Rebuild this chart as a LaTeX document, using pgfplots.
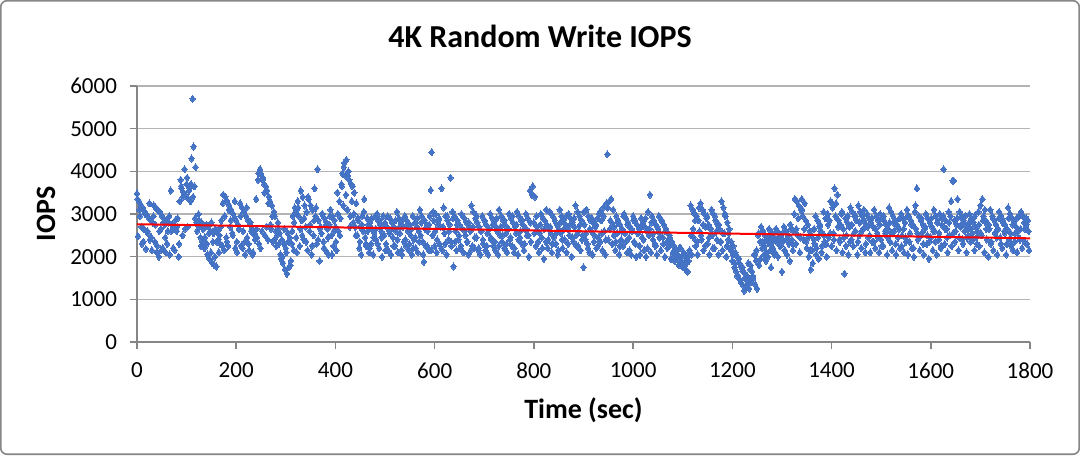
\documentclass[border=0pt]{standalone}
\usepackage{pgfplots}
\pgfplotsset{compat=1.18}
\usepackage{fontspec}
\setmainfont{Carlito}
\definecolor{ptblue}{RGB}{68,114,196}
\definecolor{gridgray}{RGB}{180,180,180}
\definecolor{axgray}{RGB}{134,134,134}
\definecolor{bordergray}{RGB}{134,134,134}
\begin{document}
\begin{tikzpicture}
\begin{axis}[
  set layers,
  scale only axis,
  width=446.5pt, height=128pt,
  xmin=0, xmax=1800, ymin=0, ymax=6000,
  xtick={0,200,...,1800}, ytick={0,1000,...,6000},
  axis x line*=bottom, axis y line*=left,
  axis line style={axgray, line width=0.8pt},
  ymajorgrids, grid style={gridgray, line width=0.8pt},
  tick align=outside, major tick length=3.5pt,
  tick style={axgray, line width=0.8pt},
  /pgf/number format/assume math mode=true,
  /pgf/number format/1000 sep={},
  ticklabel style={font=\fontsize{11.5}{13}\selectfont},
  yticklabel style={xshift=-3pt},
  xticklabel style={yshift=-3.5pt},
  title={4K Random Write IOPS},
  title style={font=\fontsize{16}{19}\selectfont\bfseries, at={(axis description cs:0.4513,1.148)}, anchor=center},
  xlabel={Time (sec)},
  xlabel style={font=\fontsize{14}{16}\selectfont\bfseries, at={(axis description cs:0.5,-0.2656)}, anchor=center},
  ylabel={IOPS},
  ylabel style={font=\fontsize{14}{16}\selectfont\bfseries, at={(axis description cs:-0.1019,0.5)}, anchor=center, rotate=0},
  clip=false,
]
\addplot[only marks, mark=diamond*, mark size=1.8pt, color=ptblue, mark options={draw=ptblue, fill=ptblue, line width=0pt}] coordinates {
(0,3480)(2,2480)(4,3300)(6,2950)(8,3200)(10,2300)(12,3150)(14,2650)(16,3050)(18,2180)(20,2980)(22,2550)(24,2900)(26,2400)(28,2850)(30,2150)(32,2800)(34,3200)(36,2350)(38,3150)
(40,2100)(42,3100)(44,2000)(46,3050)(48,2650)(50,2950)(52,2200)(54,2900)(56,2750)(58,2100)(60,2850)(62,2600)(64,2800)(66,2050)(68,3550)(70,2750)(72,2650)(74,2700)(76,2150)(78,2650)
(80,2600)(82,2900)(84,2000)(86,3300)(88,3800)(90,3600)(92,2500)(94,3500)(96,4050)(98,3450)(100,3700)(102,2700)(104,3350)(106,3600)(108,3300)(110,4300)(112,5700)(114,4580)(116,3650)(118,4100)
(120,2800)(122,2750)(124,3000)(126,2700)(128,2450)(130,2800)(132,2350)(134,2750)(136,2200)(138,2700)(140,2750)(142,2050)(144,2700)(146,1950)(148,2600)(150,2800)(152,1850)(154,2550)(156,1800)(158,2650)
(160,1770)(162,2600)(164,2400)(166,2500)(168,2300)(170,2850)(172,2250)(174,3450)(176,2150)(178,3400)(180,2450)(182,3300)(184,2250)(186,3200)(188,2700)(190,3100)(192,2550)(194,3000)(196,2900)(198,2200)
(200,2850)(202,2100)(204,2750)(206,2650)(208,3250)(210,2250)(212,3150)(214,2600)(216,3050)(218,2050)(220,2950)(222,2450)(224,2850)(226,2150)(228,2750)(230,2600)(232,2650)(234,2100)(236,2550)(238,2400)
(240,3350)(242,2450)(244,3800)(246,2300)(248,4050)(250,3950)(252,2600)(254,3850)(256,3700)(258,2500)(260,3650)(262,3550)(264,2400)(266,3400)(268,3300)(270,2650)(272,3200)(274,2350)(276,3050)(278,2950)
(280,2600)(282,2500)(284,2800)(286,2300)(288,2550)(290,1950)(292,2400)(294,1850)(296,2300)(298,1700)(300,2200)(302,1600)(304,2550)(306,1750)(308,2450)(310,1900)(312,2300)(314,2950)(316,2150)(318,3150)
(320,3050)(322,2100)(324,3300)(326,2950)(328,2250)(330,3550)(332,2850)(334,3400)(336,2400)(338,3200)(340,2700)(342,3050)(344,2150)(346,3350)(348,2600)(350,3200)(352,2050)(354,3100)(356,2500)(358,3600)
(360,2950)(362,2300)(364,4050)(366,2850)(368,1900)(370,2700)(372,2550)(374,3000)(376,2350)(378,2900)(380,2150)(382,2800)(384,2650)(386,2050)(388,2750)(390,3100)(392,2500)(394,2950)(396,2250)(398,2850)
(400,2700)(402,2150)(404,3500)(406,2600)(408,3300)(410,2900)(412,3700)(414,3950)(416,3200)(418,4200)(420,3900)(422,4270)(424,3100)(426,4000)(428,3800)(430,2950)(432,3700)(434,3650)(436,2800)(438,3500)
(440,2700)(442,3250)(444,2500)(446,2850)(448,2200)(450,2700)(452,2050)(454,2950)(456,2600)(458,3350)(460,2450)(462,2250)(464,2900)(466,2750)(468,2100)(470,2800)(472,2300)(474,2650)(476,2050)(478,2550)
(480,2950)(482,2400)(484,3000)(486,2850)(488,2200)(490,2750)(492,2600)(494,2000)(496,2950)(498,2500)(500,2800)(502,2300)(504,2700)(506,2150)(508,2600)(510,2900)(512,2050)(514,2800)(516,2450)(518,2700)
(520,2250)(522,2600)(524,3050)(526,2100)(528,2900)(530,2550)(532,2800)(534,2050)(536,2700)(538,2350)(540,2950)(542,2250)(544,2850)(546,2600)(548,2150)(550,2750)(552,2500)(554,2050)(556,2950)(558,2400)
(560,2800)(562,2200)(564,2700)(566,2100)(568,2600)(570,3100)(572,2500)(574,2950)(576,2350)(578,1880)(580,2850)(582,2250)(584,2750)(586,2600)(588,2150)(590,2950)(592,3560)(594,4450)(596,2500)(598,2850)
(600,2250)(602,3000)(604,2100)(606,2750)(608,2850)(610,2300)(612,2700)(614,3600)(616,2150)(618,3150)(620,2550)(622,2950)(624,2050)(626,2850)(628,2400)(630,2750)(632,3850)(634,2250)(636,3050)(638,1770)
(640,2950)(642,2600)(644,2150)(646,2850)(648,2400)(650,2750)(652,2200)(654,3000)(656,2650)(658,2100)(660,2900)(662,2500)(664,2800)(666,2350)(668,2050)(670,2700)(672,2600)(674,3200)(676,2250)(678,3050)
(680,2200)(682,2900)(684,2450)(686,2800)(688,2150)(690,2700)(692,2050)(694,2600)(696,2950)(698,2300)(700,2850)(702,2150)(704,2750)(706,2550)(708,2050)(710,2650)(712,3000)(714,2400)(716,2900)(718,2250)
(720,2800)(722,2150)(724,2700)(726,2600)(728,2050)(730,3100)(732,2500)(734,2950)(736,2350)(738,2850)(740,2200)(742,2750)(744,2550)(746,2100)(748,2650)(750,3000)(752,2400)(754,2900)(756,2250)(758,2800)
(760,2100)(762,2700)(764,2550)(766,3050)(768,2050)(770,2950)(772,2450)(774,2850)(776,2300)(778,2750)(780,2150)(782,2650)(784,3000)(786,2500)(788,2900)(790,2000)(792,3550)(794,2350)(796,3450)(798,3650)
(800,2800)(802,3400)(804,2250)(806,2700)(808,2600)(810,2100)(812,2550)(814,3000)(816,2450)(818,2900)(820,1950)(822,2850)(824,2350)(826,2750)(828,2200)(830,2650)(832,3050)(834,2550)(836,2100)(838,2950)
(840,2450)(842,2850)(844,2300)(846,2750)(848,2050)(850,2650)(852,3100)(854,2550)(856,2950)(858,2200)(860,2850)(862,2400)(864,2750)(866,2100)(868,2650)(870,3000)(872,2500)(874,2900)(876,2000)(878,2800)
(880,2350)(882,2700)(884,3200)(886,2250)(888,3050)(890,2600)(892,2950)(894,2150)(896,2850)(898,2500)(900,1750)(902,2750)(904,2400)(906,3100)(908,2300)(910,2950)(912,2100)(914,2850)(916,2600)(918,2050)
(920,2800)(922,2500)(924,2700)(926,2200)(928,2900)(930,2450)(932,3000)(934,2350)(936,2850)(938,2150)(940,3150)(942,2600)(944,2050)(946,3250)(948,4400)(950,2400)(952,3300)(954,2850)(956,3350)(958,2300)
(960,3100)(962,2700)(964,2150)(966,2950)(968,2550)(970,2850)(972,2050)(974,2750)(976,2400)(978,2650)(980,2250)(982,3000)(984,2550)(986,2900)(988,2100)(990,2800)(992,2450)(994,2700)(996,2050)(998,2600)
(1000,2950)(1002,2350)(1004,2850)(1006,2000)(1008,2750)(1010,2550)(1012,2650)(1014,2050)(1016,2900)(1018,2450)(1020,2800)(1022,2150)(1024,2700)(1026,2000)(1028,2600)(1030,3050)(1032,2500)(1034,3450)(1036,2100)(1038,2950)
(1040,2400)(1042,2850)(1044,2300)(1046,2750)(1048,2050)(1050,2650)(1052,2950)(1054,2550)(1056,2150)(1058,2850)(1060,2450)(1062,2750)(1064,2000)(1066,2650)(1068,2350)(1070,2550)(1072,2250)(1074,2450)(1076,1950)(1078,2350)
(1080,2100)(1082,2250)(1084,1900)(1086,2150)(1088,2000)(1090,2050)(1092,1800)(1094,2000)(1096,2200)(1098,1900)(1100,1750)(1102,2100)(1104,1850)(1106,1700)(1108,2000)(1110,1650)(1112,1900)(1114,2150)(1116,3200)(1118,2050)
(1120,3100)(1122,2450)(1124,3000)(1126,2250)(1128,2950)(1130,2050)(1132,2850)(1134,2600)(1136,3250)(1138,2400)(1140,3100)(1142,2150)(1144,3000)(1146,2700)(1148,2900)(1150,2300)(1152,2750)(1154,2050)(1156,2650)(1158,3100)
(1160,2500)(1162,3000)(1164,2200)(1166,2850)(1168,2600)(1170,2750)(1172,2050)(1174,2650)(1176,2350)(1178,3300)(1180,2150)(1182,3150)(1184,2550)(1186,2950)(1188,2000)(1190,2800)(1192,2400)(1194,2650)(1196,2200)(1198,2350)
(1200,1900)(1202,2250)(1204,1750)(1206,2100)(1208,1650)(1210,2000)(1212,1550)(1214,1850)(1216,1450)(1218,1750)(1220,1350)(1222,1650)(1224,1200)(1226,1600)(1228,1300)(1230,1550)(1232,1850)(1234,1250)(1236,1700)(1238,1400)
(1240,1650)(1242,1500)(1244,2050)(1246,1350)(1248,1900)(1250,1250)(1252,2500)(1254,1800)(1256,2350)(1258,2700)(1260,2200)(1262,2600)(1264,2050)(1266,2500)(1268,1900)(1270,2400)(1272,2000)(1274,2650)(1276,2300)(1278,1750)
(1280,2550)(1282,2200)(1284,2450)(1286,2100)(1288,2650)(1290,2350)(1292,2000)(1294,2550)(1296,2250)(1298,2450)(1300,1650)(1302,2350)(1304,2700)(1306,2150)(1308,2600)(1310,2050)(1312,2500)(1314,2300)(1316,1900)(1318,2650)
(1320,2400)(1322,2150)(1324,2600)(1326,3350)(1328,2300)(1330,3300)(1332,2500)(1334,3200)(1336,2100)(1338,3100)(1340,3350)(1342,2950)(1344,2400)(1346,3250)(1348,2850)(1350,2200)(1352,2750)(1354,2000)(1356,2600)(1358,1700)
(1360,2500)(1362,1850)(1364,2400)(1366,2300)(1368,2950)(1370,2200)(1372,2850)(1374,1950)(1376,2700)(1378,2600)(1380,2100)(1382,2550)(1384,3050)(1386,2350)(1388,2900)(1390,2000)(1392,3000)(1394,2450)(1396,2850)(1398,3300)
(1400,2250)(1402,3150)(1404,2550)(1406,3600)(1408,2950)(1410,2150)(1412,3450)(1414,2850)(1416,2400)(1418,2750)(1420,3000)(1422,2100)(1424,2650)(1426,1600)(1428,2900)(1430,2500)(1432,2800)(1434,2050)(1436,2700)(1438,3150)
(1440,2400)(1442,3050)(1444,2250)(1446,2950)(1448,2600)(1450,2850)(1452,2050)(1454,3200)(1456,2500)(1458,3050)(1460,2200)(1462,2950)(1464,2650)(1466,2850)(1468,2100)(1470,2750)(1472,3000)(1474,2450)(1476,2900)(1478,2100)
(1480,2800)(1482,2350)(1484,2700)(1486,3100)(1488,2200)(1490,2950)(1492,2550)(1494,2850)(1496,2100)(1498,3000)(1500,2400)(1502,2900)(1504,2250)(1506,2850)(1508,2600)(1510,2750)(1512,2050)(1514,2650)(1516,3150)(1518,2350)
(1520,3050)(1522,2150)(1524,2950)(1526,2600)(1528,2850)(1530,2050)(1532,2750)(1534,2450)(1536,2650)(1538,2200)(1540,3000)(1542,2500)(1544,2900)(1546,2100)(1548,2800)(1550,2350)(1552,3100)(1554,2050)(1556,2950)(1558,2550)
(1560,2850)(1562,2200)(1564,2750)(1566,2000)(1568,3050)(1570,2650)(1572,3600)(1574,2400)(1576,2950)(1578,2150)(1580,2850)(1582,2550)(1584,2750)(1586,2050)(1588,2650)(1590,3000)(1592,2300)(1594,2900)(1596,1950)(1598,2800)
(1600,2450)(1602,2700)(1604,2150)(1606,3100)(1608,2600)(1610,2950)(1612,2050)(1614,2850)(1616,2400)(1618,3000)(1620,2200)(1622,2750)(1624,2900)(1626,4050)(1628,2300)(1630,2850)(1632,2650)(1634,2100)(1636,3050)(1638,2500)
(1640,2950)(1642,2250)(1644,3780)(1646,3780)(1648,2850)(1650,2600)(1652,2750)(1654,3350)(1656,2150)(1658,3050)(1660,2700)(1662,2950)(1664,2400)(1666,2850)(1668,2600)(1670,2750)(1672,2100)(1674,2650)(1676,2500)(1678,3000)
(1680,2350)(1682,2900)(1684,2550)(1686,2800)(1688,2150)(1690,2700)(1692,2450)(1694,2600)(1696,3050)(1698,2250)(1700,3200)(1702,2500)(1704,3350)(1706,2950)(1708,2100)(1710,2850)(1712,2650)(1714,2750)(1716,2000)(1718,2650)
(1720,3100)(1722,2350)(1724,2950)(1726,2150)(1728,2850)(1730,2550)(1732,2750)(1734,2050)(1736,2650)(1738,3050)(1740,2450)(1742,2950)(1744,2200)(1746,2850)(1748,2600)(1750,2750)(1752,2050)(1754,2650)(1756,3150)(1758,2400)
(1760,3000)(1762,2250)(1764,2900)(1766,2150)(1768,2800)(1770,2550)(1772,2700)(1774,2100)(1776,2600)(1778,2950)(1780,2400)(1782,3050)(1784,2200)(1786,2950)(1788,2800)(1790,2650)(1792,2900)(1794,2300)(1796,2850)(1798,2150)
(1,3350)(5,3100)(9,2700)(13,2350)(17,3000)(21,2600)(25,3250)(29,2450)(33,2950)(37,2750)(41,2250)(45,2600)(49,2150)(53,2800)(57,2450)(61,2300)(65,2950)(69,2600)(73,2200)(77,2850)
(81,2700)(85,2300)(89,3650)(93,3400)(97,2650)(101,3850)(105,3550)(109,3700)(113,3400)(117,2900)(121,2600)(125,2850)(129,2250)(133,2650)(137,2450)(141,2300)(145,2550)(149,2100)(153,2350)(157,2000)
(161,2350)(165,2100)(169,2700)(173,3250)(177,2950)(181,2350)(185,3100)(189,2850)(193,2500)(197,3300)(201,2350)(205,2650)(209,2950)(213,2200)(217,2350)(221,3150)(225,2300)(229,2800)(233,2050)(237,2500)
(241,2650)(245,3950)(249,2200)(253,3800)(257,3500)(261,2700)(265,3250)(269,2750)(273,2950)(277,2400)(281,2250)(285,2650)(289,2050)(293,2000)(297,2650)(301,2100)(305,2350)(309,1800)(313,2600)(317,2800)
(321,2450)(325,3150)(329,2650)(333,2500)(337,2900)(341,2350)(345,3400)(349,2750)(353,2250)(357,2850)(361,3150)(365,2400)(369,2650)(373,3000)(377,2200)(381,2750)(385,2450)(389,2950)(393,2050)(397,2600)
(401,2350)(405,3000)(409,2500)(413,3650)(417,4100)(421,3450)(425,3900)(429,2700)(433,3300)(437,3000)(441,2500)(445,2900)(449,2350)(453,2750)(457,3050)(461,2300)(465,2600)(469,2200)(473,2900)(477,2450)
(481,2650)(485,2300)(489,2850)(493,2450)(497,2750)(501,2150)(505,2950)(509,2550)(513,2650)(517,2250)(521,2850)(525,2400)(529,2700)(533,2150)(537,2900)(541,2400)(545,2750)(549,2300)(553,2650)(557,2200)
(561,2450)(565,2900)(569,2350)(573,2800)(577,2050)(581,2650)(585,2250)(589,2750)(593,2150)(597,3050)(601,2600)(605,2400)(609,2900)(613,2200)(617,2700)(621,2300)(625,2950)(629,2600)(633,2350)(637,2900)
(641,2350)(645,2750)(649,2500)(653,2250)(657,2950)(661,2600)(665,2350)(669,2800)(673,2150)(677,2700)(681,2450)(685,2950)(689,2200)(693,2600)(697,2400)(701,2850)(705,2250)(709,2650)(713,2450)(717,2750)
(721,2350)(725,2900)(729,2250)(733,2700)(737,2500)(741,2850)(745,2300)(749,2650)(753,2450)(757,2950)(761,2200)(765,2750)(769,2400)(773,2600)(777,2850)(781,2300)(785,2650)(789,2500)(793,2800)(797,3450)
(801,2550)(805,2950)(809,2350)(813,2750)(817,2200)(821,2650)(825,3100)(829,2400)(833,2700)(837,2300)(841,2900)(845,2550)(849,2150)(853,2800)(857,2400)(861,2650)(865,2950)(869,2300)(873,2750)(877,2450)
(881,2900)(885,2500)(889,2250)(893,2750)(897,2400)(901,3050)(905,2550)(909,2200)(913,2650)(917,2900)(921,2350)(925,2750)(929,2250)(933,3050)(937,2550)(941,2950)(945,2400)(949,3150)(953,2650)(957,2800)
(961,2500)(965,2350)(969,2800)(973,2250)(977,2600)(981,2950)(985,2350)(989,2750)(993,2150)(997,2650)(1001,2850)(1005,2300)(1009,2550)(1013,2250)(1017,2700)(1021,2400)(1025,2900)(1029,2200)(1033,2650)(1037,2800)
(1041,2550)(1045,2250)(1049,2700)(1053,2450)(1057,2850)(1061,2300)(1065,2600)(1069,2200)(1073,2500)(1077,2300)(1081,2050)(1085,2150)(1089,1950)(1093,2200)(1097,1850)(1101,2050)(1105,1800)(1109,1950)(1113,2100)(1117,2500)
(1121,2650)(1125,2850)(1129,2350)(1133,3150)(1137,2500)(1141,2750)(1145,2250)(1149,2950)(1153,2450)(1157,2650)(1161,2200)(1165,2950)(1169,2400)(1173,2750)(1177,2350)(1181,2550)(1185,3000)(1189,2250)(1193,2550)(1197,2150)
(1201,2050)(1205,1850)(1209,1550)(1213,1950)(1217,1400)(1221,1750)(1225,1500)(1229,1350)(1233,1450)(1237,1800)(1241,1550)(1245,2050)(1249,2150)(1253,2550)(1257,1950)(1261,2350)(1265,2250)(1269,2100)(1273,2450)(1277,2150)
(1281,2350)(1285,2050)(1289,2600)(1293,2450)(1297,2250)(1301,2550)(1305,2150)(1309,2400)(1313,2500)(1317,2750)(1321,2300)(1325,3000)(1329,2650)(1333,2900)(1337,2450)(1341,3100)(1345,2650)(1349,2350)(1353,2450)(1357,2150)
(1361,2150)(1365,2650)(1369,2050)(1373,2450)(1377,2750)(1381,2250)(1385,2500)(1389,2300)(1393,2750)(1397,2550)(1401,3250)(1405,2400)(1409,3250)(1413,2700)(1417,2350)(1421,3050)(1425,2450)(1429,2250)(1433,2950)(1437,2350)
(1441,2750)(1445,2550)(1449,2950)(1453,2350)(1457,2800)(1461,2600)(1465,3100)(1469,2300)(1473,2700)(1477,2500)(1481,2900)(1485,2350)(1489,2650)(1493,2450)(1497,2750)(1501,2250)(1505,2950)(1509,2550)(1513,2450)(1517,2800)
(1521,2550)(1525,2800)(1529,2300)(1533,2700)(1537,2900)(1541,2250)(1545,2650)(1549,2450)(1553,2950)(1557,2350)(1561,2750)(1565,2200)(1569,3200)(1573,2550)(1577,2450)(1581,2900)(1585,2300)(1589,2700)(1593,2500)(1597,2350)
(1601,2900)(1605,2600)(1609,2350)(1613,2800)(1617,2550)(1621,2250)(1625,2950)(1629,2650)(1633,2450)(1637,2800)(1641,3300)(1645,2550)(1649,2350)(1653,2900)(1657,2450)(1661,2750)(1665,2300)(1669,2950)(1673,2450)(1677,2800)
(1681,2650)(1685,2400)(1689,2950)(1693,2300)(1697,2750)(1701,2550)(1705,2850)(1709,3100)(1713,2400)(1717,2750)(1721,2300)(1725,2900)(1729,2550)(1733,2450)(1737,2900)(1741,2300)(1745,2800)(1749,2550)(1753,2300)(1757,2900)
(1761,2550)(1765,2750)(1769,2350)(1773,2900)(1777,2450)(1781,2650)(1785,2950)(1789,2350)(1793,2750)(1797,2600)
};
\addplot[color=red, line width=1pt, no marks, on layer=axis foreground] coordinates {(0,2760) (1800,2430)};
\end{axis}
\draw[bordergray, line width=0.8pt, rounded corners=3pt] (-68.1pt,-56.1pt) rectangle (471.1pt,170.6pt);
\end{tikzpicture}
\end{document}
